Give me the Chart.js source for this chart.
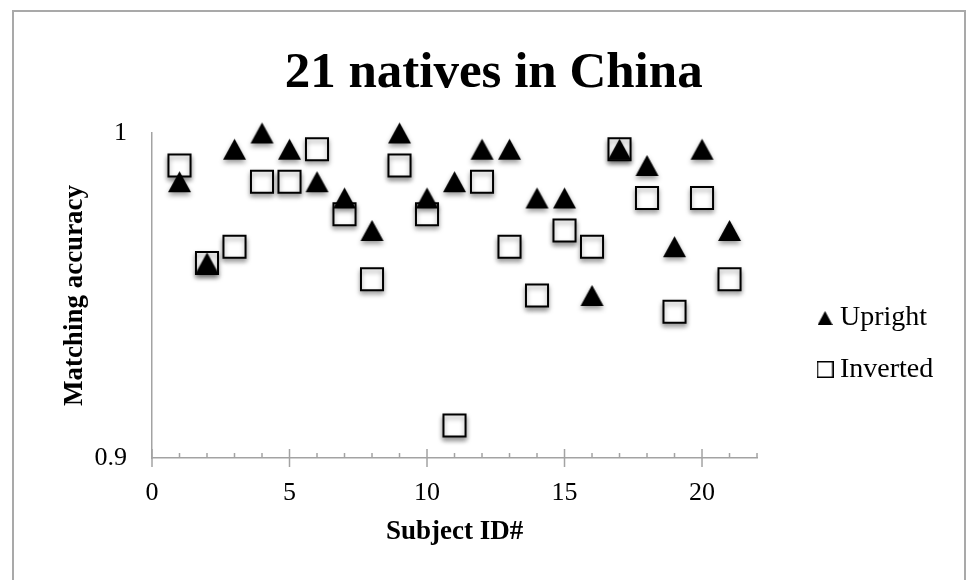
<!DOCTYPE html>
<html>
<head>
<meta charset="utf-8">
<script src="https://cdn.jsdelivr.net/npm/chart.js@4.4.1/dist/chart.umd.min.js"></script>
<style>
  html, body { margin: 0; padding: 0; background: #fff; }
  #wrap { position: relative; width: 974px; height: 580px; overflow: hidden; }
  #frame { position: absolute; left: 12px; top: 10px; width: 950px; height: 640px;
           border: 2px solid #a9a9a9; border-bottom: none; pointer-events: none; }
  canvas { position: absolute; left: 0; top: 0; }
</style>
</head>
<body>
<div id="wrap">
  <canvas id="chart" width="974" height="580"></canvas>
  <div id="frame"></div>
</div>
<script>
// values
const subjects = [1, 2, 3, 4, 5, 6, 7, 8, 9, 10, 11, 12, 13, 14, 15, 16, 17, 18, 19, 20, 21];
const upright  = [0.985, 0.96, 0.995, 1.0, 0.995, 0.985, 0.98, 0.97, 1.0, 0.98, 0.985,
                  0.995, 0.995, 0.98, 0.98, 0.95, 0.995, 0.99, 0.965, 0.995, 0.97];
const inverted = [0.99, 0.96, 0.965, 0.985, 0.985, 0.995, 0.975, 0.955, 0.99, 0.975, 0.91,
                  0.985, 0.965, 0.95, 0.97, 0.965, 0.995, 0.98, 0.945, 0.98, 0.955];
const seriesNames = ['Upright', 'Inverted'];
const xTicks = [0, 5, 10, 15, 20];
const yTicks = [0.9, 1];

const axisColor = '#a3a3a3';
const serif = "'Liberation Serif', 'Times New Roman', serif";

Chart.defaults.font.family = serif;
Chart.defaults.color = '#000';

// triangle drawn centred on its bounding box, like the spreadsheet marker
function triangleMark(w, h, pad) {
    const c = document.createElement('canvas');
    c.width = w + pad * 2;
    c.height = h + pad * 2;
    const g = c.getContext('2d');
    g.fillStyle = '#000';
    g.beginPath();
    g.moveTo(c.width / 2, pad);
    g.lineTo(pad + w, pad + h);
    g.lineTo(pad, pad + h);
    g.closePath();
    g.fill();
    return c;
}

function squareMark(s, lw) {
    const c = document.createElement('canvas');
    c.width = s;
    c.height = s;
    const g = c.getContext('2d');
    g.fillStyle = '#fff';
    g.strokeStyle = '#000';
    g.lineWidth = lw;
    g.fillRect(lw / 2, lw / 2, s - lw, s - lw);
    g.strokeRect(lw / 2, lw / 2, s - lw, s - lw);
    return c;
}

const triangleData = triangleMark(23, 21, 1);
const legendMarks = [triangleMark(15, 14, 0), squareMark(17, 1.5)];

const toPoints = ys => subjects.map((s, i) => ({ x: s, y: ys[i] }));

// soft drop shadow under the markers
const markerShadow = {
    id: 'markerShadow',
    beforeDatasetsDraw(chart) {
        const ctx = chart.ctx;
        ctx.save();
        ctx.shadowColor = 'rgba(0, 0, 0, 0.4)';
        ctx.shadowBlur = 5;
        ctx.shadowOffsetX = 0;
        ctx.shadowOffsetY = 3;
    },
    afterDatasetsDraw(chart) {
        chart.ctx.restore();
    }
};

// minor ticks point up into the plot, major ticks cross the axis
const axisTicks = {
    id: 'axisTicks',
    beforeDatasetsDraw(chart) {
        const sx = chart.scales.x;
        const ctx = chart.ctx;
        const y0 = sx.top;
        ctx.save();
        ctx.strokeStyle = axisColor;
        ctx.lineWidth = 1.5;
        for (let v = sx.min; v <= sx.max; v += 1) {
            const px = sx.getPixelForValue(v);
            const major = v % 5 === 0;
            ctx.beginPath();
            ctx.moveTo(px, y0 - (major ? 9 : 5));
            ctx.lineTo(px, y0 + (major ? 9 : 0));
            ctx.stroke();
        }
        ctx.restore();
    }
};

new Chart(document.getElementById('chart'), {
    type: 'scatter',
    data: {
        datasets: [{
            label: seriesNames[0],
            data: toPoints(upright),
            pointStyle: triangleData,
            pointRadius: 12,
            pointHoverRadius: 12,
            backgroundColor: '#000',
            borderColor: '#000',
            clip: false
        }, {
            label: seriesNames[1],
            data: toPoints(inverted),
            pointStyle: 'rect',
            pointRadius: 15.6,
            pointHoverRadius: 15.6,
            borderWidth: 2,
            hoverBorderWidth: 2,
            backgroundColor: '#fff',
            borderColor: '#000',
            clip: false
        }]
    },
    options: {
        responsive: false,
        animation: false,
        layout: { padding: { left: 44, right: 30.7, top: 0, bottom: 0 } },
        plugins: {
            tooltip: { enabled: false },
            title: {
                display: true,
                text: '21 natives in China',
                color: '#000',
                font: { size: 51, weight: 'bold', lineHeight: 1 },
                padding: { top: 48, bottom: 34 }
            },
            legend: {
                position: 'right',
                align: 'center',
                title: { display: true, text: '', font: { size: 10, lineHeight: 1 }, padding: { top: 97.5, bottom: 0 } },
                labels: {
                    usePointStyle: true,
                    boxWidth: 2,
                    boxHeight: 16,
                    padding: 23.5,
                    color: '#000',
                    font: { size: 28 },
                    generateLabels(chart) {
                        const items = Chart.defaults.plugins.legend.labels.generateLabels(chart);
                        items.forEach((it, i) => { it.pointStyle = legendMarks[i]; });
                        return items;
                    }
                }
            }
        },
        scales: {
            x: {
                type: 'linear',
                position: 'bottom',
                min: 0,
                max: 22,
                afterBuildTicks: s => { s.ticks = xTicks.map(v => ({ value: v })); },
                grid: { display: false, drawTicks: false },
                border: { display: true, color: axisColor, width: 1.5 },
                ticks: { padding: 22.5, color: '#000', font: { size: 26, lineHeight: 1 } },
                title: {
                    display: true,
                    text: 'Subject ID#',
                    color: '#000',
                    font: { size: 27, weight: 'bold', lineHeight: 1 },
                    padding: { top: -10.5, bottom: 34.5 }
                }
            },
            y: {
                type: 'linear',
                position: 'left',
                min: 0.9,
                max: 1,
                afterBuildTicks: s => { s.ticks = yTicks.map(v => ({ value: v })); },
                grid: { display: false, drawTicks: false },
                border: { display: true, color: axisColor, width: 1.5 },
                ticks: { padding: 25, color: '#000', font: { size: 26, lineHeight: 1 }, callback: v => String(v) },
                title: {
                    display: true,
                    text: 'Matching accuracy',
                    color: '#000',
                    font: { size: 27, weight: 'bold', lineHeight: 1.2 },
                    padding: { top: 14.8, bottom: -21.7 }
                }
            },
            // empty axis that keeps the gap between plot and legend
            spacer: {
                axis: 'y',
                position: 'right',
                display: true,
                grid: { display: false, drawTicks: false },
                border: { display: false },
                ticks: { display: false },
                afterFit: s => { s.width = 43.5; }
            }
        }
    },
    plugins: [axisTicks, markerShadow]
});
</script>
</body>
</html>
